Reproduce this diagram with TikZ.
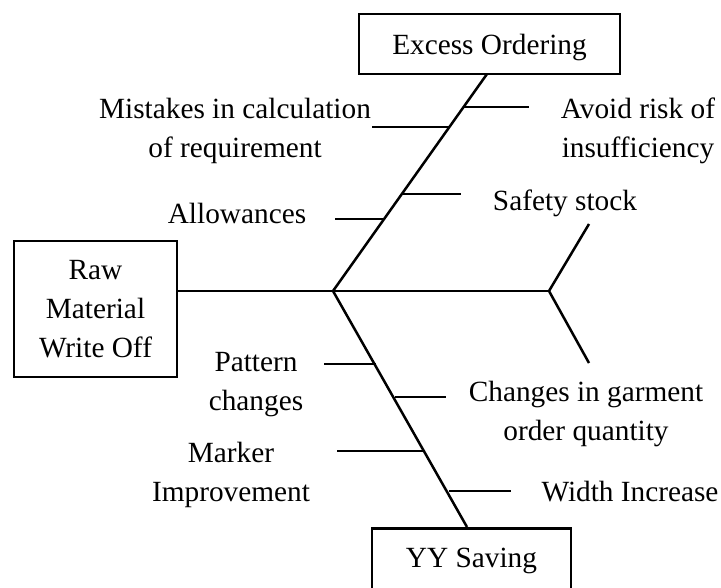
\documentclass[tikz,border=0pt]{standalone}
\usepackage{fontspec}
\setmainfont{Liberation Serif}
\begin{document}
\begin{tikzpicture}[x=1pt,y=-1pt,
  every node/.style={font=\fontsize{29.3}{39}\selectfont, inner sep=0pt, align=center},
  boxnode/.style={draw, line width=2.8pt},
  spine/.style={line width=2.5pt},
  rib/.style={line width=1.4pt},
  lbl/.style={}]
\useasboundingbox (0,0) rectangle (721,588);
\clip (0,0) rectangle (721,588);
% boxes
\node[boxnode, minimum width=163pt, minimum height=136pt] (raw) at (95.5,309) {Raw\\Material\\Write Off};
\node[boxnode, minimum width=261pt, minimum height=60pt] (eo) at (489.5,44) {};
\node (eot) at (489.5,47) {Excess Ordering};
\node[boxnode, minimum width=199pt, minimum height=90pt, anchor=north] (yybox) at (471.5,527) {};
\node (yy) at (471.5,561) {YY Saving};
% skeleton
\coordinate (j) at (333,291);
\coordinate (f) at (549,291);
\coordinate (ft) at (589,224);
\coordinate (fb) at (589,363);
\coordinate (et) at (487,74);
\coordinate (yt) at (467,527);
\draw[spine] (raw.east |- j) -- (j) -- (f);
\draw[spine] (ft) -- (f) -- (fb);
\draw[spine] (et) -- (j) -- (yt);
% ribs upper
\coordinate (r1a) at (372,127); \coordinate (r1b) at (450,127);
\coordinate (r2a) at (464,107); \coordinate (r2b) at (529,107);
\coordinate (r3a) at (401,194); \coordinate (r3b) at (461,194);
\coordinate (r4a) at (335,219); \coordinate (r4b) at (384,219);
% ribs lower
\coordinate (r5a) at (324,364); \coordinate (r5b) at (376,364);
\coordinate (r6a) at (395,397); \coordinate (r6b) at (446,397);
\coordinate (r7a) at (337,451); \coordinate (r7b) at (425,451);
\coordinate (r8a) at (449,491); \coordinate (r8b) at (511,491);
\foreach \i in {1,...,8} {\draw[rib] (r\i a) -- (r\i b);}
% labels
\node[lbl] (l1) at (235,130.5) {Mistakes in calculation\\of requirement};
\node[lbl] (l2) at (638,130.5) {Avoid risk of\\insufficiency};
\node[lbl] (l3) at (565,203) {Safety stock};
\node[lbl] (l4) at (237,213) {Allowances};
\node[lbl] (l5) at (256,384.5) {Pattern\\changes};
\node[lbl] (l6) at (586,413.5) {Changes in garment\\order quantity};
\node[lbl] (l7) at (231,474.5) {Marker\\Improvement};
\node[lbl] (l8) at (630,492) {Width Increase};
\end{tikzpicture}
\end{document}
